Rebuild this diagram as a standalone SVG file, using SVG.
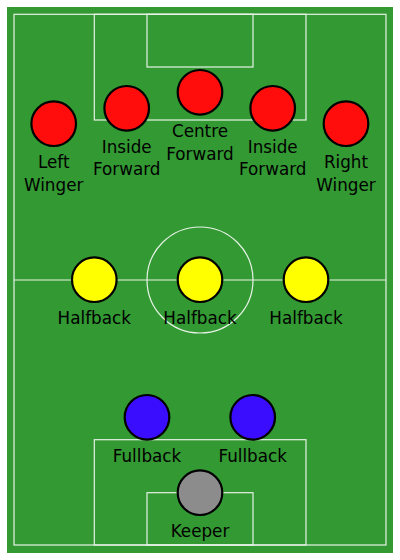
<svg xmlns="http://www.w3.org/2000/svg" width="400" height="560" viewBox="0 0 400 560">
<style>
.line{fill:none;stroke:#e8f2e8;stroke-width:1.2}
.p{stroke:#000;stroke-width:2.2}
.red{fill:#ff0d0d}
.yel{fill:#ffff00}
.blu{fill:#3a0dff}
.gry{fill:#8c8c8c}
text{font-family:"DejaVu Sans",sans-serif;font-size:16.8px;fill:#000;text-anchor:middle}
</style>
<rect x="0" y="0" width="400" height="560" fill="#fff"/>
<g id="pitch">
<rect x="7" y="7" width="386" height="546" fill="#339933"/>
<rect class="line" x="14" y="14.3" width="372" height="530.7"/>
<line class="line" x1="14" y1="280" x2="386" y2="280"/>
<circle class="line" cx="200" cy="280" r="53"/>
<rect class="line" x="94.3" y="14.3" width="211.7" height="105.7"/>
<rect class="line" x="147" y="14.3" width="106" height="52.7"/>
<rect class="line" x="94.3" y="439.7" width="211.7" height="105.3"/>
<rect class="line" x="147" y="492.7" width="106" height="52.3"/>
</g>
<g id="connectors"/>
<g id="left-winger"><circle class="p red" cx="53.7" cy="123.7" r="22.3"/><text x="53.7" y="167.7">Left</text><text x="53.7" y="190.7">Winger</text></g>
<g id="inside-forward-left"><circle class="p red" cx="126.7" cy="108.3" r="22.3"/><text x="126.7" y="152.7">Inside</text><text x="126.7" y="175">Forward</text></g>
<g id="centre-forward"><circle class="p red" cx="200" cy="92.3" r="22.3"/><text x="200" y="137.3">Centre</text><text x="200" y="159.5">Forward</text></g>
<g id="inside-forward-right"><circle class="p red" cx="272.7" cy="108.3" r="22.3"/><text x="272.7" y="152.7">Inside</text><text x="272.7" y="175">Forward</text></g>
<g id="right-winger"><circle class="p red" cx="346" cy="123.7" r="22.3"/><text x="346" y="167.7">Right</text><text x="346" y="190.7">Winger</text></g>
<g id="halfback-left"><circle class="p yel" cx="94.3" cy="279.7" r="22.3"/><text x="94.3" y="324">Halfback</text></g>
<g id="halfback-centre"><circle class="p yel" cx="200" cy="279.7" r="22.3"/><text x="200" y="324">Halfback</text></g>
<g id="halfback-right"><circle class="p yel" cx="306" cy="279.7" r="22.3"/><text x="306" y="324">Halfback</text></g>
<g id="fullback-left"><circle class="p blu" cx="147" cy="417.3" r="22.3"/><text x="147" y="461.7">Fullback</text></g>
<g id="fullback-right"><circle class="p blu" cx="252.7" cy="417.3" r="22.3"/><text x="252.7" y="461.7">Fullback</text></g>
<g id="keeper"><circle class="p gry" cx="200" cy="492.7" r="22.3"/><text x="200" y="536.7">Keeper</text></g>
</svg>
